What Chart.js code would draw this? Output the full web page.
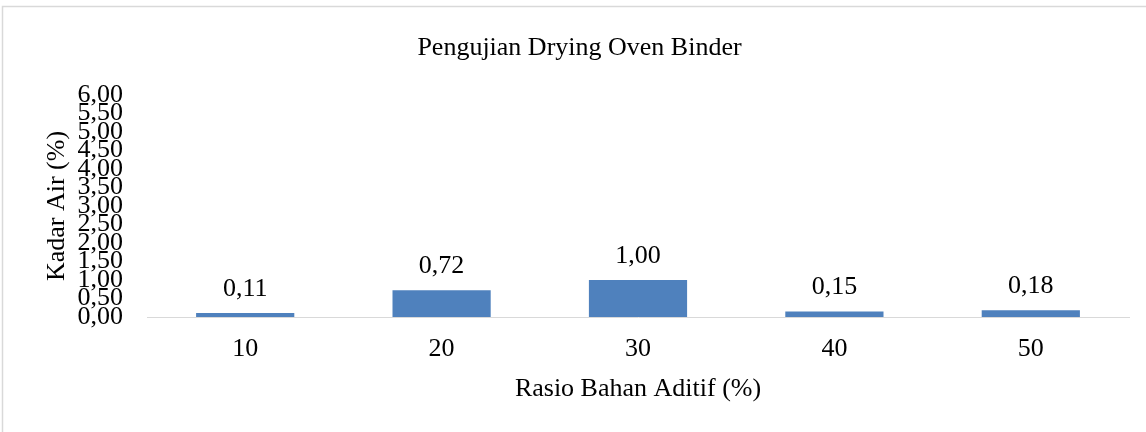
<!DOCTYPE html>
<html>
<head>
<meta charset="utf-8">
<script src="https://cdn.jsdelivr.net/npm/chart.js@4"></script>
<style>
    body { margin: 0; background: #ffffff; }
    #wrap { width: 1146px; height: 432px; }
</style>
</head>
<body>
<div id="wrap"><canvas id="ovenChart" width="1146" height="432"></canvas></div>
<script>
// data
const categories = ['10', '20', '30', '40', '50'];
const kadarAir = [0.11, 0.72, 1.00, 0.15, 0.18];
const yTicks = [0, 0.5, 1, 1.5, 2, 2.5, 3, 3.5, 4, 4.5, 5, 5.5, 6];

const fontFamily = '"Liberation Serif", "Times New Roman", serif';
const fmt = v => v.toFixed(2).replace('.', ',');

// grey frame round the chart (only top and left are in the picture)
const framePlugin = {
    id: 'frame',
    beforeDraw(chart) {
        const ctx = chart.ctx;
        ctx.save();
        ctx.strokeStyle = '#d9d9d9';
        ctx.lineWidth = 1.5;
        ctx.beginPath();
        ctx.moveTo(2.5, chart.height);
        ctx.lineTo(2.5, 6.5);
        ctx.lineTo(chart.width, 6.5);
        ctx.stroke();
        ctx.restore();
    }
};

// value labels above each bar
const valueLabels = {
    id: 'valueLabels',
    afterDatasetsDraw(chart) {
        const ctx = chart.ctx;
        const meta = chart.getDatasetMeta(0);
        ctx.save();
        ctx.font = '26px ' + fontFamily;
        ctx.fillStyle = '#000000';
        ctx.textAlign = 'center';
        ctx.textBaseline = 'alphabetic';
        meta.data.forEach((bar, i) => {
            ctx.fillText(fmt(kadarAir[i]), bar.x, bar.y - 17);
        });
        ctx.restore();
    }
};

const ctx = document.getElementById('ovenChart').getContext('2d');
const chart = new Chart(ctx, {
    type: 'bar',
    data: {
        labels: categories,
        datasets: [
            {
                label: 'Kadar Air',
                data: kadarAir,
                backgroundColor: '#4f81bd',
                borderWidth: 0,
                barPercentage: 0.5,
                categoryPercentage: 1.0
            }
        ]
    },
    options: {
        responsive: false,
        animation: false,
        layout: {
            padding: { left: 30, right: 17, top: 0, bottom: 30 }
        },
        plugins: {
            legend: { display: false },
            tooltip: { enabled: false },
            title: {
                display: true,
                text: 'Pengujian Drying Oven Binder',
                color: '#000000',
                font: { family: fontFamily, size: 26, weight: 'normal', lineHeight: 1 },
                padding: { top: 35, bottom: 34 }
            }
        },
        scales: {
            x: {
                grid: { display: false, drawTicks: false },
                border: { display: true, color: '#d9d9d9', width: 1 },
                ticks: {
                    color: '#000000',
                    padding: 19,
                    font: { family: fontFamily, size: 26, lineHeight: 1 }
                },
                title: {
                    display: true,
                    text: 'Rasio Bahan Aditif (%)',
                    color: '#000000',
                    font: { family: fontFamily, size: 26, lineHeight: 1 },
                    padding: 0
                },
                afterFit(scale) {
                    scale.height = 85;
                }
            },
            y: {
                min: 0,
                max: 6,
                grid: { display: false, drawTicks: false },
                border: { display: false },
                afterBuildTicks(scale) {
                    scale.ticks = yTicks.map(v => ({ value: v }));
                },
                ticks: {
                    autoSkip: false,
                    color: '#000000',
                    padding: 24,
                    font: { family: fontFamily, size: 26, lineHeight: 1 },
                    callback: function(value) {
                        return fmt(value);
                    }
                },
                title: {
                    display: true,
                    text: 'Kadar Air (%)',
                    color: '#000000',
                    font: { family: fontFamily, size: 26, lineHeight: 1 },
                    padding: { top: 14, bottom: 0 }
                },
                afterFit(scale) {
                    scale.width = 117;
                }
            }
        }
    },
    plugins: [framePlugin, valueLabels]
});
</script>
</body>
</html>
